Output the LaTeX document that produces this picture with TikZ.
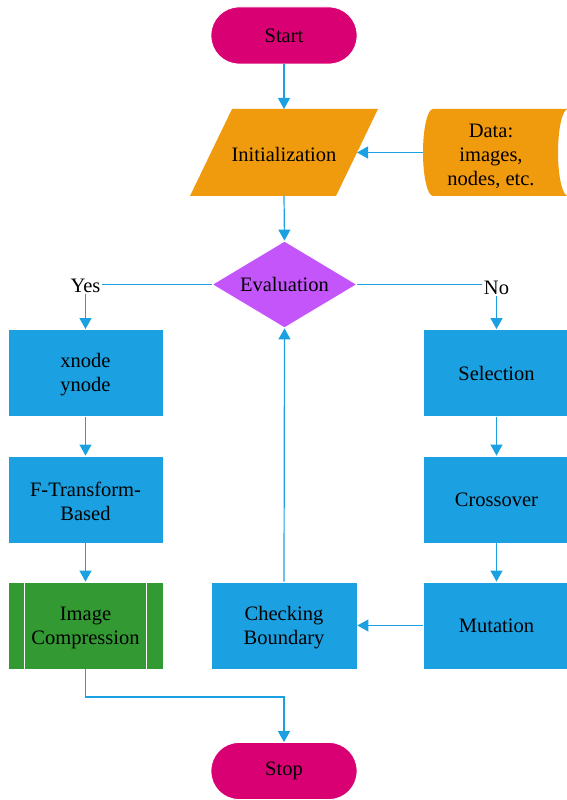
\documentclass[tikz,border=0pt]{standalone}
\usepackage{fontspec}
\setmainfont{Liberation Serif}
\usetikzlibrary{shapes.geometric,arrows.meta}
\definecolor{cmag}{HTML}{D80073}
\definecolor{corange}{HTML}{F09A0E}
\definecolor{cpurple}{HTML}{C355FA}
\definecolor{cblue}{HTML}{1BA1E2}
\definecolor{cgreen}{HTML}{339933}
\begin{document}
\begin{tikzpicture}[x=1pt,y=1pt,
  every node/.style={font=\fontsize{20.5}{24}\selectfont, text=black, align=center, inner sep=0pt},
  term/.style={rectangle, rounded corners=28pt, fill=cmag, draw=white, line width=0.8pt, minimum width=146pt, minimum height=57pt},
  proc/.style={rectangle, fill=cblue, draw=white, line width=0.8pt, minimum width=#1, minimum height=87pt},
  shapeline/.style={draw=white, line width=0.8pt},
  conn/.style={draw=cblue, line width=1.2pt, -{Triangle[width=12pt,length=11pt]}},
  lbl/.style={fill=white, inner sep=1.5pt}]
\useasboundingbox (0,0) rectangle (567,800);
% Start / Stop
\node[term] (start) at (284,764.5) {Start};
\node[term] (stop) at (284,29) {Stop};
% Initialization (parallelogram)
\fill[corange] (232,691) -- (378,691) -- (336,604) -- (190,604) -- cycle;
\node (init) at (284,646) {Initialization};
\coordinate (initT) at (284,691);
\coordinate (initB) at (284,604);
\coordinate (initR) at (357,647.5);
% Data (stored data)
\begin{scope}
\clip (0,0) rectangle (567,800);
\fill[corange] (433,691) -- (568,691) arc[start angle=90, end angle=270, x radius=10, y radius=43.5]
  -- (433,604) arc[start angle=270, end angle=90, x radius=10, y radius=43.5] -- cycle;
\end{scope}
\node (data) at (491,644) {Data:\\images,\\nodes, etc.};
\coordinate (dataW) at (423,647.5);
% Evaluation
\node[diamond, fill=cpurple, draw=white, line width=0.8pt, aspect=1.667, minimum width=145pt, minimum height=87pt] (eval) at (284.5,515.5) {Evaluation};
% Left column
\node[proc=155pt] (xn) at (85.5,427) {};
\node at ([yshift=-2pt]xn.center) {xnode\\ynode};
\node[proc=155pt] (ft) at (85.5,300.5) {};
\node at ([yshift=-2pt]ft.center) {F-Transform-\\Based};
\node[proc=155pt, fill=cgreen] (ic) at (85.5,174.5) {};
\node at ([yshift=-2pt]ic.center) {Image\\Compression};
\draw[shapeline] ([xshift=17pt]ic.north west) -- ([xshift=17pt]ic.south west);
\draw[shapeline] ([xshift=-17pt]ic.north east) -- ([xshift=-17pt]ic.south east);
% Right column
\node[proc=147pt] (sel) at (496.5,427) {Selection};
\node[proc=147pt] (cross) at (496.5,300.5) {Crossover};
\node[proc=147pt] (mut) at (496.5,174.5) {Mutation};
% Middle
\node[proc=146pt] (chk) at (284,174.5) {};
\node at ([yshift=-2pt]chk.center) {Checking\\Boundary};
% Connectors
\draw[conn] (start.south) -- (initT);
\draw[conn] (dataW) -- (initR);
\draw[conn] (initB) -- (eval.north);
\draw[conn] (eval.west) -| node[lbl, pos=0.5, yshift=-1.5pt] {Yes} (xn.north);
\draw[conn] (eval.east) -| node[lbl, pos=0.5, yshift=-3pt] {No} (sel.north);
\draw[conn] (xn.south) -- (ft.north);
\draw[conn] (ft.south) -- (ic.north);
\draw[conn] (sel.south) -- (cross.north);
\draw[conn] (cross.south) -- (mut.north);
\draw[conn] (mut.west) -- (chk.east);
\draw[conn] (chk.north) -- (eval.south);
\coordinate (bend) at (85.5,103);
\draw[conn] (ic.south) -- (bend) -| (stop.north);
\end{tikzpicture}
\end{document}
